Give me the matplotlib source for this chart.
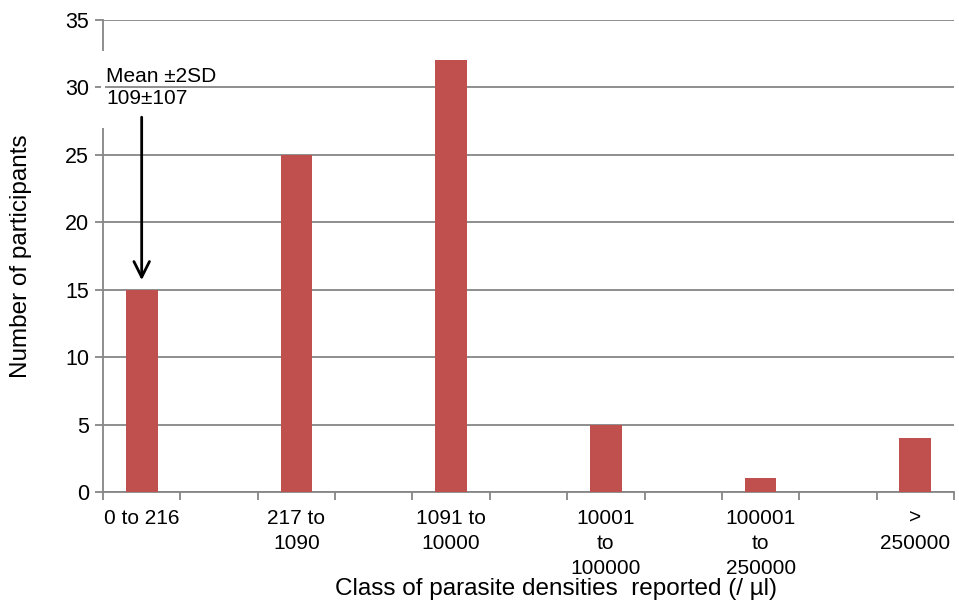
import matplotlib.pyplot as plt
import numpy as np

plt.rcParams['font.family'] = ['Liberation Sans', 'DejaVu Sans']

# classes of parasite density and participant counts
classes = ["0 to 216", "217 to\n1090", "1091 to\n10000", "10001\nto\n100000",
           "100001\nto\n250000", ">\n250000"]
counts = [15, 25, 32, 5, 1, 4]

grey = "#868686"

fig = plt.figure(figsize=(9.59, 6.07), dpi=100)
ax = fig.add_axes([0.1074, 0.1895, 0.8874, 0.7775])

# every class takes one slot, with an empty slot between classes
pos = np.arange(len(classes)) * 2
ax.bar(pos, counts, width=0.41, color="#C0504D", zorder=3)

ax.set_xlim(-0.5, pos[-1] + 0.5)
ax.set_ylim(0, 35)
ax.set_yticks(np.arange(0, 36, 5))
ax.yaxis.grid(True, color=grey, linewidth=1.3, zorder=0)

ax.set_xticks(np.arange(-0.5, pos[-1] + 1, 1))
ax.set_xticklabels([])
ax.set_xticks(pos, minor=True)
ax.set_xticklabels(classes, minor=True, fontsize=15, va="top")
for lab in ax.get_xticklabels(minor=True):
    lab.set_linespacing(1.4)
ax.tick_params(axis="x", which="major", length=6, color=grey, width=1.3)
ax.tick_params(axis="x", which="minor", length=0, pad=12)
ax.tick_params(axis="y", length=6, color=grey, width=1.3, labelsize=15.5, pad=4)

for s in ["top", "right"]:
    ax.spines[s].set_visible(False)
for s in ["left", "bottom"]:
    ax.spines[s].set_color(grey)
    ax.spines[s].set_linewidth(1.3)

ax.set_ylabel("Number of participants", fontsize=17.5, labelpad=24)
ax.set_xlabel("Class of parasite densities  reported (/ \u00b5l)", fontsize=17.5)
ax.xaxis.set_label_coords(0.532, -0.205, transform=ax.transAxes)
ax.xaxis.label.set_va("center")

# gap in the y axis behind the note, as in the original
ax.axvspan(-0.52, -0.47, ymin=27.0 / 35, ymax=32.7 / 35,
           color="white", zorder=4, clip_on=False, lw=0)

ax.text(-0.46, 30.0, "Mean \u00b12SD\n109\u00b1107", fontsize=15, va="center", ha="left",
        linespacing=1.15, zorder=5)
ax.annotate("", xy=(0, 15.5), xytext=(0, 28),
            arrowprops=dict(arrowstyle="->", color="black", lw=2, mutation_scale=28),
            zorder=6)

fig.savefig("out.png", dpi=100)
